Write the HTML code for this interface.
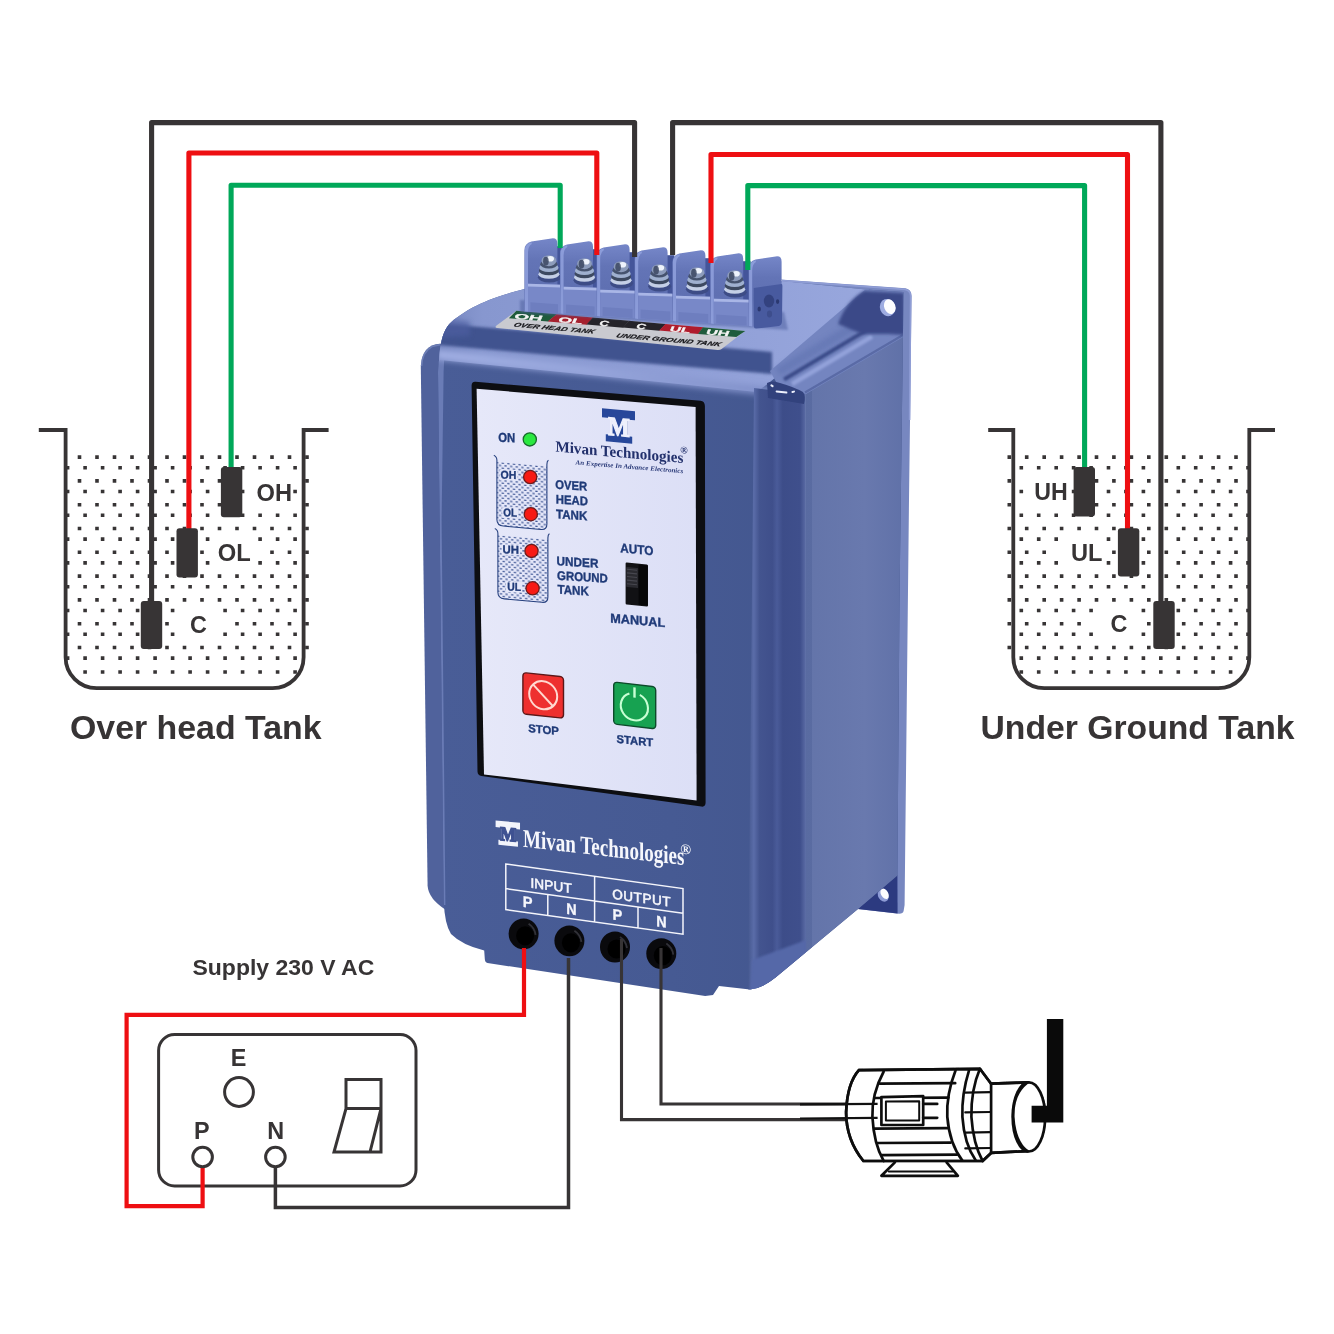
<!DOCTYPE html>
<html lang="en">
<head>
<meta charset="utf-8">
<title>Water level controller wiring diagram</title>
<style>
html,body{margin:0;padding:0;background:#fff}
body{width:1334px;height:1334px;overflow:hidden}
svg{display:block}
text{white-space:pre}
</style>
</head>
<body>
<svg width="1334" height="1334" viewBox="0 0 1334 1334" style="will-change:transform">
<rect width="1334" height="1334" fill="#fff"/>
<path d="M77.7 455.3h3.6v3.6h-3.6zM95.2 455.3h3.6v3.6h-3.6zM112.7 455.3h3.6v3.6h-3.6zM130.2 455.3h3.6v3.6h-3.6zM147.7 455.3h3.6v3.6h-3.6zM165.2 455.3h3.6v3.6h-3.6zM182.7 455.3h3.6v3.6h-3.6zM200.2 455.3h3.6v3.6h-3.6zM217.7 455.3h3.6v3.6h-3.6zM235.2 455.3h3.6v3.6h-3.6zM252.7 455.3h3.6v3.6h-3.6zM270.2 455.3h3.6v3.6h-3.6zM287.7 455.3h3.6v3.6h-3.6zM305.2 455.3h3.6v3.6h-3.6zM65.8 465.9h3.6v3.6h-3.6zM83.3 465.9h3.6v3.6h-3.6zM100.8 465.9h3.6v3.6h-3.6zM118.3 465.9h3.6v3.6h-3.6zM135.8 465.9h3.6v3.6h-3.6zM153.3 465.9h3.6v3.6h-3.6zM170.8 465.9h3.6v3.6h-3.6zM188.3 465.9h3.6v3.6h-3.6zM205.8 465.9h3.6v3.6h-3.6zM223.3 465.9h3.6v3.6h-3.6zM240.8 465.9h3.6v3.6h-3.6zM258.3 465.9h3.6v3.6h-3.6zM275.8 465.9h3.6v3.6h-3.6zM293.3 465.9h3.6v3.6h-3.6zM77.7 479.1h3.6v3.6h-3.6zM95.2 479.1h3.6v3.6h-3.6zM112.7 479.1h3.6v3.6h-3.6zM130.2 479.1h3.6v3.6h-3.6zM147.7 479.1h3.6v3.6h-3.6zM165.2 479.1h3.6v3.6h-3.6zM182.7 479.1h3.6v3.6h-3.6zM200.2 479.1h3.6v3.6h-3.6zM217.7 479.1h3.6v3.6h-3.6zM235.2 479.1h3.6v3.6h-3.6zM305.2 479.1h3.6v3.6h-3.6zM65.8 489.7h3.6v3.6h-3.6zM83.3 489.7h3.6v3.6h-3.6zM100.8 489.7h3.6v3.6h-3.6zM118.3 489.7h3.6v3.6h-3.6zM135.8 489.7h3.6v3.6h-3.6zM153.3 489.7h3.6v3.6h-3.6zM170.8 489.7h3.6v3.6h-3.6zM188.3 489.7h3.6v3.6h-3.6zM205.8 489.7h3.6v3.6h-3.6zM223.3 489.7h3.6v3.6h-3.6zM240.8 489.7h3.6v3.6h-3.6zM293.3 489.7h3.6v3.6h-3.6zM77.7 502.9h3.6v3.6h-3.6zM95.2 502.9h3.6v3.6h-3.6zM112.7 502.9h3.6v3.6h-3.6zM130.2 502.9h3.6v3.6h-3.6zM147.7 502.9h3.6v3.6h-3.6zM165.2 502.9h3.6v3.6h-3.6zM182.7 502.9h3.6v3.6h-3.6zM200.2 502.9h3.6v3.6h-3.6zM217.7 502.9h3.6v3.6h-3.6zM235.2 502.9h3.6v3.6h-3.6zM305.2 502.9h3.6v3.6h-3.6zM65.8 513.5h3.6v3.6h-3.6zM83.3 513.5h3.6v3.6h-3.6zM100.8 513.5h3.6v3.6h-3.6zM118.3 513.5h3.6v3.6h-3.6zM135.8 513.5h3.6v3.6h-3.6zM153.3 513.5h3.6v3.6h-3.6zM170.8 513.5h3.6v3.6h-3.6zM188.3 513.5h3.6v3.6h-3.6zM205.8 513.5h3.6v3.6h-3.6zM223.3 513.5h3.6v3.6h-3.6zM240.8 513.5h3.6v3.6h-3.6zM258.3 513.5h3.6v3.6h-3.6zM275.8 513.5h3.6v3.6h-3.6zM293.3 513.5h3.6v3.6h-3.6zM77.7 526.7h3.6v3.6h-3.6zM95.2 526.7h3.6v3.6h-3.6zM112.7 526.7h3.6v3.6h-3.6zM130.2 526.7h3.6v3.6h-3.6zM147.7 526.7h3.6v3.6h-3.6zM165.2 526.7h3.6v3.6h-3.6zM182.7 526.7h3.6v3.6h-3.6zM200.2 526.7h3.6v3.6h-3.6zM217.7 526.7h3.6v3.6h-3.6zM235.2 526.7h3.6v3.6h-3.6zM252.7 526.7h3.6v3.6h-3.6zM270.2 526.7h3.6v3.6h-3.6zM287.7 526.7h3.6v3.6h-3.6zM305.2 526.7h3.6v3.6h-3.6zM65.8 537.3h3.6v3.6h-3.6zM83.3 537.3h3.6v3.6h-3.6zM100.8 537.3h3.6v3.6h-3.6zM118.3 537.3h3.6v3.6h-3.6zM135.8 537.3h3.6v3.6h-3.6zM153.3 537.3h3.6v3.6h-3.6zM170.8 537.3h3.6v3.6h-3.6zM188.3 537.3h3.6v3.6h-3.6zM205.8 537.3h3.6v3.6h-3.6zM258.3 537.3h3.6v3.6h-3.6zM275.8 537.3h3.6v3.6h-3.6zM293.3 537.3h3.6v3.6h-3.6zM77.7 550.5h3.6v3.6h-3.6zM95.2 550.5h3.6v3.6h-3.6zM112.7 550.5h3.6v3.6h-3.6zM130.2 550.5h3.6v3.6h-3.6zM147.7 550.5h3.6v3.6h-3.6zM165.2 550.5h3.6v3.6h-3.6zM182.7 550.5h3.6v3.6h-3.6zM200.2 550.5h3.6v3.6h-3.6zM270.2 550.5h3.6v3.6h-3.6zM287.7 550.5h3.6v3.6h-3.6zM305.2 550.5h3.6v3.6h-3.6zM65.8 561.1h3.6v3.6h-3.6zM83.3 561.1h3.6v3.6h-3.6zM100.8 561.1h3.6v3.6h-3.6zM118.3 561.1h3.6v3.6h-3.6zM135.8 561.1h3.6v3.6h-3.6zM153.3 561.1h3.6v3.6h-3.6zM170.8 561.1h3.6v3.6h-3.6zM188.3 561.1h3.6v3.6h-3.6zM205.8 561.1h3.6v3.6h-3.6zM258.3 561.1h3.6v3.6h-3.6zM275.8 561.1h3.6v3.6h-3.6zM293.3 561.1h3.6v3.6h-3.6zM77.7 574.3h3.6v3.6h-3.6zM95.2 574.3h3.6v3.6h-3.6zM112.7 574.3h3.6v3.6h-3.6zM130.2 574.3h3.6v3.6h-3.6zM147.7 574.3h3.6v3.6h-3.6zM165.2 574.3h3.6v3.6h-3.6zM182.7 574.3h3.6v3.6h-3.6zM200.2 574.3h3.6v3.6h-3.6zM217.7 574.3h3.6v3.6h-3.6zM235.2 574.3h3.6v3.6h-3.6zM252.7 574.3h3.6v3.6h-3.6zM270.2 574.3h3.6v3.6h-3.6zM287.7 574.3h3.6v3.6h-3.6zM305.2 574.3h3.6v3.6h-3.6zM65.8 584.9h3.6v3.6h-3.6zM83.3 584.9h3.6v3.6h-3.6zM100.8 584.9h3.6v3.6h-3.6zM118.3 584.9h3.6v3.6h-3.6zM135.8 584.9h3.6v3.6h-3.6zM153.3 584.9h3.6v3.6h-3.6zM170.8 584.9h3.6v3.6h-3.6zM188.3 584.9h3.6v3.6h-3.6zM205.8 584.9h3.6v3.6h-3.6zM223.3 584.9h3.6v3.6h-3.6zM240.8 584.9h3.6v3.6h-3.6zM258.3 584.9h3.6v3.6h-3.6zM275.8 584.9h3.6v3.6h-3.6zM293.3 584.9h3.6v3.6h-3.6zM77.7 598.1h3.6v3.6h-3.6zM95.2 598.1h3.6v3.6h-3.6zM112.7 598.1h3.6v3.6h-3.6zM130.2 598.1h3.6v3.6h-3.6zM147.7 598.1h3.6v3.6h-3.6zM165.2 598.1h3.6v3.6h-3.6zM182.7 598.1h3.6v3.6h-3.6zM200.2 598.1h3.6v3.6h-3.6zM217.7 598.1h3.6v3.6h-3.6zM235.2 598.1h3.6v3.6h-3.6zM252.7 598.1h3.6v3.6h-3.6zM270.2 598.1h3.6v3.6h-3.6zM287.7 598.1h3.6v3.6h-3.6zM305.2 598.1h3.6v3.6h-3.6zM65.8 608.7h3.6v3.6h-3.6zM83.3 608.7h3.6v3.6h-3.6zM100.8 608.7h3.6v3.6h-3.6zM118.3 608.7h3.6v3.6h-3.6zM135.8 608.7h3.6v3.6h-3.6zM153.3 608.7h3.6v3.6h-3.6zM170.8 608.7h3.6v3.6h-3.6zM223.3 608.7h3.6v3.6h-3.6zM240.8 608.7h3.6v3.6h-3.6zM258.3 608.7h3.6v3.6h-3.6zM275.8 608.7h3.6v3.6h-3.6zM293.3 608.7h3.6v3.6h-3.6zM77.7 621.9h3.6v3.6h-3.6zM95.2 621.9h3.6v3.6h-3.6zM112.7 621.9h3.6v3.6h-3.6zM130.2 621.9h3.6v3.6h-3.6zM147.7 621.9h3.6v3.6h-3.6zM165.2 621.9h3.6v3.6h-3.6zM235.2 621.9h3.6v3.6h-3.6zM252.7 621.9h3.6v3.6h-3.6zM270.2 621.9h3.6v3.6h-3.6zM287.7 621.9h3.6v3.6h-3.6zM305.2 621.9h3.6v3.6h-3.6zM65.8 632.5h3.6v3.6h-3.6zM83.3 632.5h3.6v3.6h-3.6zM100.8 632.5h3.6v3.6h-3.6zM118.3 632.5h3.6v3.6h-3.6zM135.8 632.5h3.6v3.6h-3.6zM153.3 632.5h3.6v3.6h-3.6zM170.8 632.5h3.6v3.6h-3.6zM223.3 632.5h3.6v3.6h-3.6zM240.8 632.5h3.6v3.6h-3.6zM258.3 632.5h3.6v3.6h-3.6zM275.8 632.5h3.6v3.6h-3.6zM293.3 632.5h3.6v3.6h-3.6zM77.7 645.7h3.6v3.6h-3.6zM95.2 645.7h3.6v3.6h-3.6zM112.7 645.7h3.6v3.6h-3.6zM130.2 645.7h3.6v3.6h-3.6zM147.7 645.7h3.6v3.6h-3.6zM165.2 645.7h3.6v3.6h-3.6zM182.7 645.7h3.6v3.6h-3.6zM200.2 645.7h3.6v3.6h-3.6zM217.7 645.7h3.6v3.6h-3.6zM235.2 645.7h3.6v3.6h-3.6zM252.7 645.7h3.6v3.6h-3.6zM270.2 645.7h3.6v3.6h-3.6zM287.7 645.7h3.6v3.6h-3.6zM305.2 645.7h3.6v3.6h-3.6zM65.8 656.3h3.6v3.6h-3.6zM83.3 656.3h3.6v3.6h-3.6zM100.8 656.3h3.6v3.6h-3.6zM118.3 656.3h3.6v3.6h-3.6zM135.8 656.3h3.6v3.6h-3.6zM153.3 656.3h3.6v3.6h-3.6zM170.8 656.3h3.6v3.6h-3.6zM188.3 656.3h3.6v3.6h-3.6zM205.8 656.3h3.6v3.6h-3.6zM223.3 656.3h3.6v3.6h-3.6zM240.8 656.3h3.6v3.6h-3.6zM258.3 656.3h3.6v3.6h-3.6zM275.8 656.3h3.6v3.6h-3.6zM293.3 656.3h3.6v3.6h-3.6zM83.3 670.2h3.6v3.6h-3.6zM100.8 670.2h3.6v3.6h-3.6zM118.3 670.2h3.6v3.6h-3.6zM135.8 670.2h3.6v3.6h-3.6zM153.3 670.2h3.6v3.6h-3.6zM170.8 670.2h3.6v3.6h-3.6zM188.3 670.2h3.6v3.6h-3.6zM205.8 670.2h3.6v3.6h-3.6zM223.3 670.2h3.6v3.6h-3.6zM240.8 670.2h3.6v3.6h-3.6zM258.3 670.2h3.6v3.6h-3.6zM275.8 670.2h3.6v3.6h-3.6zM293.3 670.2h3.6v3.6h-3.6z" fill="#373435"/>
<path d="M1007.5 455.3h3.6v3.6h-3.6zM1024.9 455.3h3.6v3.6h-3.6zM1042.4 455.3h3.6v3.6h-3.6zM1059.8 455.3h3.6v3.6h-3.6zM1077.3 455.3h3.6v3.6h-3.6zM1094.7 455.3h3.6v3.6h-3.6zM1112.1 455.3h3.6v3.6h-3.6zM1129.6 455.3h3.6v3.6h-3.6zM1147.0 455.3h3.6v3.6h-3.6zM1164.5 455.3h3.6v3.6h-3.6zM1181.9 455.3h3.6v3.6h-3.6zM1199.3 455.3h3.6v3.6h-3.6zM1216.8 455.3h3.6v3.6h-3.6zM1234.2 455.3h3.6v3.6h-3.6zM1019.5 465.9h3.6v3.6h-3.6zM1036.9 465.9h3.6v3.6h-3.6zM1054.4 465.9h3.6v3.6h-3.6zM1071.8 465.9h3.6v3.6h-3.6zM1089.3 465.9h3.6v3.6h-3.6zM1106.7 465.9h3.6v3.6h-3.6zM1124.1 465.9h3.6v3.6h-3.6zM1141.6 465.9h3.6v3.6h-3.6zM1159.0 465.9h3.6v3.6h-3.6zM1176.5 465.9h3.6v3.6h-3.6zM1193.9 465.9h3.6v3.6h-3.6zM1211.3 465.9h3.6v3.6h-3.6zM1228.8 465.9h3.6v3.6h-3.6zM1246.2 465.9h3.6v3.6h-3.6zM1007.5 479.1h3.6v3.6h-3.6zM1077.3 479.1h3.6v3.6h-3.6zM1094.7 479.1h3.6v3.6h-3.6zM1112.1 479.1h3.6v3.6h-3.6zM1129.6 479.1h3.6v3.6h-3.6zM1147.0 479.1h3.6v3.6h-3.6zM1164.5 479.1h3.6v3.6h-3.6zM1181.9 479.1h3.6v3.6h-3.6zM1199.3 479.1h3.6v3.6h-3.6zM1216.8 479.1h3.6v3.6h-3.6zM1234.2 479.1h3.6v3.6h-3.6zM1019.5 489.7h3.6v3.6h-3.6zM1071.8 489.7h3.6v3.6h-3.6zM1089.3 489.7h3.6v3.6h-3.6zM1106.7 489.7h3.6v3.6h-3.6zM1124.1 489.7h3.6v3.6h-3.6zM1141.6 489.7h3.6v3.6h-3.6zM1159.0 489.7h3.6v3.6h-3.6zM1176.5 489.7h3.6v3.6h-3.6zM1193.9 489.7h3.6v3.6h-3.6zM1211.3 489.7h3.6v3.6h-3.6zM1228.8 489.7h3.6v3.6h-3.6zM1246.2 489.7h3.6v3.6h-3.6zM1007.5 502.9h3.6v3.6h-3.6zM1077.3 502.9h3.6v3.6h-3.6zM1094.7 502.9h3.6v3.6h-3.6zM1112.1 502.9h3.6v3.6h-3.6zM1129.6 502.9h3.6v3.6h-3.6zM1147.0 502.9h3.6v3.6h-3.6zM1164.5 502.9h3.6v3.6h-3.6zM1181.9 502.9h3.6v3.6h-3.6zM1199.3 502.9h3.6v3.6h-3.6zM1216.8 502.9h3.6v3.6h-3.6zM1234.2 502.9h3.6v3.6h-3.6zM1019.5 513.5h3.6v3.6h-3.6zM1036.9 513.5h3.6v3.6h-3.6zM1054.4 513.5h3.6v3.6h-3.6zM1071.8 513.5h3.6v3.6h-3.6zM1089.3 513.5h3.6v3.6h-3.6zM1106.7 513.5h3.6v3.6h-3.6zM1124.1 513.5h3.6v3.6h-3.6zM1141.6 513.5h3.6v3.6h-3.6zM1159.0 513.5h3.6v3.6h-3.6zM1176.5 513.5h3.6v3.6h-3.6zM1193.9 513.5h3.6v3.6h-3.6zM1211.3 513.5h3.6v3.6h-3.6zM1228.8 513.5h3.6v3.6h-3.6zM1246.2 513.5h3.6v3.6h-3.6zM1007.5 526.7h3.6v3.6h-3.6zM1024.9 526.7h3.6v3.6h-3.6zM1042.4 526.7h3.6v3.6h-3.6zM1059.8 526.7h3.6v3.6h-3.6zM1077.3 526.7h3.6v3.6h-3.6zM1094.7 526.7h3.6v3.6h-3.6zM1112.1 526.7h3.6v3.6h-3.6zM1129.6 526.7h3.6v3.6h-3.6zM1147.0 526.7h3.6v3.6h-3.6zM1164.5 526.7h3.6v3.6h-3.6zM1181.9 526.7h3.6v3.6h-3.6zM1199.3 526.7h3.6v3.6h-3.6zM1216.8 526.7h3.6v3.6h-3.6zM1234.2 526.7h3.6v3.6h-3.6zM1019.5 537.3h3.6v3.6h-3.6zM1036.9 537.3h3.6v3.6h-3.6zM1054.4 537.3h3.6v3.6h-3.6zM1106.7 537.3h3.6v3.6h-3.6zM1124.1 537.3h3.6v3.6h-3.6zM1141.6 537.3h3.6v3.6h-3.6zM1159.0 537.3h3.6v3.6h-3.6zM1176.5 537.3h3.6v3.6h-3.6zM1193.9 537.3h3.6v3.6h-3.6zM1211.3 537.3h3.6v3.6h-3.6zM1228.8 537.3h3.6v3.6h-3.6zM1246.2 537.3h3.6v3.6h-3.6zM1007.5 550.5h3.6v3.6h-3.6zM1024.9 550.5h3.6v3.6h-3.6zM1042.4 550.5h3.6v3.6h-3.6zM1112.1 550.5h3.6v3.6h-3.6zM1129.6 550.5h3.6v3.6h-3.6zM1147.0 550.5h3.6v3.6h-3.6zM1164.5 550.5h3.6v3.6h-3.6zM1181.9 550.5h3.6v3.6h-3.6zM1199.3 550.5h3.6v3.6h-3.6zM1216.8 550.5h3.6v3.6h-3.6zM1234.2 550.5h3.6v3.6h-3.6zM1019.5 561.1h3.6v3.6h-3.6zM1036.9 561.1h3.6v3.6h-3.6zM1054.4 561.1h3.6v3.6h-3.6zM1106.7 561.1h3.6v3.6h-3.6zM1124.1 561.1h3.6v3.6h-3.6zM1141.6 561.1h3.6v3.6h-3.6zM1159.0 561.1h3.6v3.6h-3.6zM1176.5 561.1h3.6v3.6h-3.6zM1193.9 561.1h3.6v3.6h-3.6zM1211.3 561.1h3.6v3.6h-3.6zM1228.8 561.1h3.6v3.6h-3.6zM1246.2 561.1h3.6v3.6h-3.6zM1007.5 574.3h3.6v3.6h-3.6zM1024.9 574.3h3.6v3.6h-3.6zM1042.4 574.3h3.6v3.6h-3.6zM1059.8 574.3h3.6v3.6h-3.6zM1077.3 574.3h3.6v3.6h-3.6zM1094.7 574.3h3.6v3.6h-3.6zM1112.1 574.3h3.6v3.6h-3.6zM1129.6 574.3h3.6v3.6h-3.6zM1147.0 574.3h3.6v3.6h-3.6zM1164.5 574.3h3.6v3.6h-3.6zM1181.9 574.3h3.6v3.6h-3.6zM1199.3 574.3h3.6v3.6h-3.6zM1216.8 574.3h3.6v3.6h-3.6zM1234.2 574.3h3.6v3.6h-3.6zM1019.5 584.9h3.6v3.6h-3.6zM1036.9 584.9h3.6v3.6h-3.6zM1054.4 584.9h3.6v3.6h-3.6zM1071.8 584.9h3.6v3.6h-3.6zM1089.3 584.9h3.6v3.6h-3.6zM1106.7 584.9h3.6v3.6h-3.6zM1124.1 584.9h3.6v3.6h-3.6zM1141.6 584.9h3.6v3.6h-3.6zM1159.0 584.9h3.6v3.6h-3.6zM1176.5 584.9h3.6v3.6h-3.6zM1193.9 584.9h3.6v3.6h-3.6zM1211.3 584.9h3.6v3.6h-3.6zM1228.8 584.9h3.6v3.6h-3.6zM1246.2 584.9h3.6v3.6h-3.6zM1007.5 598.1h3.6v3.6h-3.6zM1024.9 598.1h3.6v3.6h-3.6zM1042.4 598.1h3.6v3.6h-3.6zM1059.8 598.1h3.6v3.6h-3.6zM1077.3 598.1h3.6v3.6h-3.6zM1094.7 598.1h3.6v3.6h-3.6zM1112.1 598.1h3.6v3.6h-3.6zM1129.6 598.1h3.6v3.6h-3.6zM1147.0 598.1h3.6v3.6h-3.6zM1164.5 598.1h3.6v3.6h-3.6zM1181.9 598.1h3.6v3.6h-3.6zM1199.3 598.1h3.6v3.6h-3.6zM1216.8 598.1h3.6v3.6h-3.6zM1234.2 598.1h3.6v3.6h-3.6zM1019.5 608.7h3.6v3.6h-3.6zM1036.9 608.7h3.6v3.6h-3.6zM1054.4 608.7h3.6v3.6h-3.6zM1071.8 608.7h3.6v3.6h-3.6zM1089.3 608.7h3.6v3.6h-3.6zM1141.6 608.7h3.6v3.6h-3.6zM1159.0 608.7h3.6v3.6h-3.6zM1176.5 608.7h3.6v3.6h-3.6zM1193.9 608.7h3.6v3.6h-3.6zM1211.3 608.7h3.6v3.6h-3.6zM1228.8 608.7h3.6v3.6h-3.6zM1246.2 608.7h3.6v3.6h-3.6zM1007.5 621.9h3.6v3.6h-3.6zM1024.9 621.9h3.6v3.6h-3.6zM1042.4 621.9h3.6v3.6h-3.6zM1059.8 621.9h3.6v3.6h-3.6zM1077.3 621.9h3.6v3.6h-3.6zM1147.0 621.9h3.6v3.6h-3.6zM1164.5 621.9h3.6v3.6h-3.6zM1181.9 621.9h3.6v3.6h-3.6zM1199.3 621.9h3.6v3.6h-3.6zM1216.8 621.9h3.6v3.6h-3.6zM1234.2 621.9h3.6v3.6h-3.6zM1019.5 632.5h3.6v3.6h-3.6zM1036.9 632.5h3.6v3.6h-3.6zM1054.4 632.5h3.6v3.6h-3.6zM1071.8 632.5h3.6v3.6h-3.6zM1089.3 632.5h3.6v3.6h-3.6zM1141.6 632.5h3.6v3.6h-3.6zM1159.0 632.5h3.6v3.6h-3.6zM1176.5 632.5h3.6v3.6h-3.6zM1193.9 632.5h3.6v3.6h-3.6zM1211.3 632.5h3.6v3.6h-3.6zM1228.8 632.5h3.6v3.6h-3.6zM1246.2 632.5h3.6v3.6h-3.6zM1007.5 645.7h3.6v3.6h-3.6zM1024.9 645.7h3.6v3.6h-3.6zM1042.4 645.7h3.6v3.6h-3.6zM1059.8 645.7h3.6v3.6h-3.6zM1077.3 645.7h3.6v3.6h-3.6zM1094.7 645.7h3.6v3.6h-3.6zM1112.1 645.7h3.6v3.6h-3.6zM1129.6 645.7h3.6v3.6h-3.6zM1147.0 645.7h3.6v3.6h-3.6zM1164.5 645.7h3.6v3.6h-3.6zM1181.9 645.7h3.6v3.6h-3.6zM1199.3 645.7h3.6v3.6h-3.6zM1216.8 645.7h3.6v3.6h-3.6zM1234.2 645.7h3.6v3.6h-3.6zM1019.5 656.3h3.6v3.6h-3.6zM1036.9 656.3h3.6v3.6h-3.6zM1054.4 656.3h3.6v3.6h-3.6zM1071.8 656.3h3.6v3.6h-3.6zM1089.3 656.3h3.6v3.6h-3.6zM1106.7 656.3h3.6v3.6h-3.6zM1124.1 656.3h3.6v3.6h-3.6zM1141.6 656.3h3.6v3.6h-3.6zM1159.0 656.3h3.6v3.6h-3.6zM1176.5 656.3h3.6v3.6h-3.6zM1193.9 656.3h3.6v3.6h-3.6zM1211.3 656.3h3.6v3.6h-3.6zM1228.8 656.3h3.6v3.6h-3.6zM1246.2 656.3h3.6v3.6h-3.6zM1019.5 670.2h3.6v3.6h-3.6zM1036.9 670.2h3.6v3.6h-3.6zM1054.4 670.2h3.6v3.6h-3.6zM1071.8 670.2h3.6v3.6h-3.6zM1089.3 670.2h3.6v3.6h-3.6zM1106.7 670.2h3.6v3.6h-3.6zM1124.1 670.2h3.6v3.6h-3.6zM1141.6 670.2h3.6v3.6h-3.6zM1159.0 670.2h3.6v3.6h-3.6zM1176.5 670.2h3.6v3.6h-3.6zM1193.9 670.2h3.6v3.6h-3.6zM1211.3 670.2h3.6v3.6h-3.6zM1228.8 670.2h3.6v3.6h-3.6z" fill="#373435"/>
<path d="M38.8 430H65.6V657.2A31 31 0 0 0 96.6 688.2H272.6A31 31 0 0 0 303.6 657.2V430H328.6" fill="none" stroke="#373435" stroke-width="3.8"/>
<path d="M988.2 430H1013.3V657.2A31 31 0 0 0 1044.3 688.2H1218.3A31 31 0 0 0 1249.3 657.2V430H1275" fill="none" stroke="#373435" stroke-width="3.8"/>
<defs>
<linearGradient id="gFront" x1="0" y1="0" x2="1" y2="0">
<stop offset="0" stop-color="#495d97"/><stop offset="0.5" stop-color="#465a93"/><stop offset="1" stop-color="#41548c"/>
</linearGradient>
<linearGradient id="gSide" x1="0" y1="0" x2="1" y2="0">
<stop offset="0" stop-color="#6374a9"/><stop offset="0.6" stop-color="#6979ae"/><stop offset="1" stop-color="#6071a8"/>
</linearGradient>
<linearGradient id="gTop" x1="0" y1="0" x2="1" y2="0">
<stop offset="0" stop-color="#7283bd"/><stop offset="0.12" stop-color="#8797cf"/><stop offset="0.5" stop-color="#8e9dd5"/><stop offset="1" stop-color="#98a7dd"/>
</linearGradient>
<linearGradient id="gBevel" gradientUnits="userSpaceOnUse" x1="440" y1="0" x2="772" y2="0">
<stop offset="0" stop-color="#a2b0e4"/><stop offset="0.45" stop-color="#97a6dc"/><stop offset="1" stop-color="#7f8fc8"/>
</linearGradient>
<linearGradient id="gRidge" x1="0" y1="0" x2="1" y2="0">
<stop offset="0" stop-color="#45588f"/><stop offset="0.1" stop-color="#5a6ca8"/><stop offset="0.2" stop-color="#43548f"/>
<stop offset="0.42" stop-color="#3f4f8b"/><stop offset="0.5" stop-color="#4a5b99"/><stop offset="0.6" stop-color="#3d4d89"/><stop offset="0.9" stop-color="#3f4f8c"/><stop offset="1" stop-color="#5c6da6"/>
</linearGradient>
<linearGradient id="gFin" x1="0" y1="0" x2="0" y2="1">
<stop offset="0" stop-color="#7586c8"/><stop offset="0.3" stop-color="#6374b6"/><stop offset="0.6" stop-color="#5f70b2"/><stop offset="1" stop-color="#7080c0"/>
</linearGradient>
<linearGradient id="gPanel" x1="0" y1="0" x2="1" y2="0">
<stop offset="0" stop-color="#e6e8f9"/><stop offset="1" stop-color="#dcdff6"/>
</linearGradient>
<pattern id="pDots" width="5.6" height="5" patternUnits="userSpaceOnUse" patternTransform="translate(495 458)">
<rect x="0.3" y="0.3" width="2.2" height="1.2" fill="#2a4488"/><rect x="3.1" y="2.8" width="2.2" height="1.2" fill="#2a4488"/>
</pattern>
<filter id="fBlur1" x="-20%" y="-20%" width="140%" height="140%"><feGaussianBlur stdDeviation="1.2"/></filter>
<filter id="fBlur15" x="-20%" y="-20%" width="140%" height="140%"><feGaussianBlur stdDeviation="1.7"/></filter>
<filter id="fBlur3" x="-20%" y="-50%" width="140%" height="200%"><feGaussianBlur stdDeviation="3"/></filter>
<filter id="fBlur2" x="-20%" y="-20%" width="140%" height="140%"><feGaussianBlur stdDeviation="2.5"/></filter>
<filter id="fBlur05" x="-20%" y="-20%" width="140%" height="140%"><feGaussianBlur stdDeviation="0.6"/></filter>
</defs>
<path d="M440 343.8Q431 344.4 426 350Q421.4 356 420.8 366L427.6 886Q428.6 899 446 910L446 344Z" fill="#50629c"/>
<path d="M421.6 366Q422 352 432 346.5L440 344.6" fill="none" stroke="#7384bb" stroke-width="1.6" opacity="0.8"/>
<path d="M780 279.5L905.5 288.3Q911.5 289.5 911.6 296L909 500L906.8 700L904.6 905L903.6 911Q903 913.8 899 913.7L858 909L858 880L880 330Z" fill="#7787c0"/>
<path d="M857.6 909L897.4 875L897.6 913.4Z" fill="#2c3a80"/>
<ellipse cx="883.2" cy="895.4" rx="5" ry="6.6" fill="#8e9cd6" transform="rotate(-30 883.2 895.4)"/>
<ellipse cx="884.6" cy="893.8" rx="3.6" ry="5.6" fill="#fdfdff" transform="rotate(-30 884.6 893.8)"/>
<clipPath id="cBody"><path d="M443.8 902L438 372L439.2 358C440 345 442.4 333.5 447.6 326.3C452 320.6 459 315.5 472.6 307.6C485 301 500 295.5 522.7 289.4L526 288.6L782 281L866 289.5L903.4 292L903 333L899.5 600L897.4 875.5L858 909L775.5 977.5Q762 988.5 750 989.4L719 986L713 995L705.2 996.1L487.5 963Q485 962.4 484.8 959L484.2 950.5Q462 945 451 934Q444.6 924 443.8 902Z"/></clipPath>
<path d="M443.8 902L438 372L439.2 358C440 345 442.4 333.5 447.6 326.3C452 320.6 459 315.5 472.6 307.6C485 301 500 295.5 522.7 289.4L526 288.6L782 281L866 289.5L903.4 292L903 333L899.5 600L897.4 875.5L858 909L775.5 977.5Q762 988.5 750 989.4L719 986L713 995L705.2 996.1L487.5 963Q485 962.4 484.8 959L484.2 950.5Q462 945 451 934Q444.6 924 443.8 902Z" fill="url(#gFront)"/>
<g clip-path="url(#cBody)">
<path d="M437 350L438 372L439.6 520L443.5 905L445.4 905L441.6 520L443.6 372L445 340Z" fill="#6a7cb6" filter="url(#fBlur05)"/>
<path d="M430 378L436 320L480 290L526 285L782 278L870 288L846 318L770 382L757 392L600 376L440 360Z" fill="url(#gTop)"/>
<path d="M432 323L600 337L772 352L772 374L600 359.5L432 344.5Z" fill="#41538f" filter="url(#fBlur15)"/>
<path d="M432 318Q446 318 470 322L470 336L432 338Z" fill="#4d5fa0" opacity="0.7" filter="url(#fBlur2)"/>
<path d="M436 349.5L600 368L772 387.5L772 396L600 376.5L436 359Z" fill="url(#gBevel)" filter="url(#fBlur3)"/>
<path d="M754 388L806 394L806 958L780 990L748 990Z" fill="url(#gRidge)"/>
<path d="M805 394L806 391L904 332L904 333L900 905L858 912L806 956Z" fill="url(#gSide)"/>
<path d="M806 394L812 390L812 950L806 956Z" fill="#56679f" opacity="0.7" filter="url(#fBlur05)"/>
<path d="M752 960L806 940L806 958L776 985L750 992Z" fill="#5468a8" filter="url(#fBlur1)"/>
<path d="M866 289L905 291L905 336L806 394L780 389L770 371Z" fill="#7485c0"/>
<path d="M778 372L860 323" stroke="#6476b3" stroke-width="9" fill="none" opacity="0.75" filter="url(#fBlur2)"/>
<path d="M784 379.5L866 330.5" stroke="#3b4b89" stroke-width="4" fill="none" filter="url(#fBlur1)"/>
<path d="M792 384L872 336.5" stroke="#93a2da" stroke-width="4.5" fill="none" filter="url(#fBlur1)"/>
<path d="M805 392.5L903 335" stroke="#5a6ba6" stroke-width="2.4" fill="none" filter="url(#fBlur05)"/>
<path d="M838 324Q846 301 864 291L904 293L905 335L888 334L862 334Z" fill="#3a4988" filter="url(#fBlur15)"/>
<path d="M767 383Q772 380 780 383Q794 387 803 392Q806 396 804 404L768 398Z" fill="#33427d" filter="url(#fBlur05)"/>
<path d="M771.4 385.4L772.6 386.2M776.6 391.4L786.4 392.6M792.4 392L794 391.6" stroke="#eef1fc" stroke-width="2" stroke-linecap="round" fill="none" filter="url(#fBlur05)"/>
<ellipse cx="887.6" cy="307.6" rx="7.6" ry="8.8" fill="#9eace2" transform="rotate(-20 887.6 307.6)"/>
<ellipse cx="889.8" cy="306.6" rx="5.6" ry="7.6" fill="#fdfdff" transform="rotate(-20 889.8 306.6)"/>
</g>
<path d="M782 280.6L905 289.4Q910.6 290.4 910.6 296L909.6 420" fill="none" stroke="#8f9dd5" stroke-width="1.6"/>
<path d="M516.4 310.7L745 331L721.6 349Q720 350.2 717.6 350L497.4 328Q494.4 327.6 496.2 325.8Z" fill="#c9cad0"/>
<path d="M516.4 310.7L556.8 314.3L548.0 321.4L508.9 318.2Z" fill="#1f5c3c"/>
<path d="M556.5 314.3L593.1 317.5L586.8 324.7L547.7 321.4Z" fill="#a5202e"/>
<path d="M592.8 317.5L629.3 320.7L623.1 327.7L586.5 324.6Z" fill="#25242a"/>
<path d="M629.0 320.7L665.7 324.0L659.4 330.7L622.8 327.6Z" fill="#25242a"/>
<path d="M665.4 323.9L703.3 327.3L698.3 333.9L659.1 330.6Z" fill="#b01c2c"/>
<path d="M703.0 327.3L745.3 331.0L736.3 337.0L698.0 333.9Z" fill="#1f5c3c"/>
<text transform="matrix(1 0.0868 -0.35 0.8 513.4 318.4)" font-family="'Liberation Sans', Arial, Helvetica, sans-serif" font-weight="bold" font-size="9" fill="#f4f4f4" stroke="#f4f4f4" stroke-width="0.3" textLength="28" lengthAdjust="spacingAndGlyphs">OH</text>
<text transform="matrix(1 0.0868 -0.35 0.8 557.6 322.1)" font-family="'Liberation Sans', Arial, Helvetica, sans-serif" font-weight="bold" font-size="9" fill="#f4f4f4" stroke="#f4f4f4" stroke-width="0.3" textLength="24" lengthAdjust="spacingAndGlyphs">OL</text>
<text transform="matrix(1 0.0868 -0.35 0.8 598.4 325.5)" font-family="'Liberation Sans', Arial, Helvetica, sans-serif" font-weight="bold" font-size="9" fill="#f4f4f4" stroke="#f4f4f4" stroke-width="0.3" textLength="9.5" lengthAdjust="spacingAndGlyphs">C</text>
<text transform="matrix(1 0.0868 -0.35 0.8 635.4 328.6)" font-family="'Liberation Sans', Arial, Helvetica, sans-serif" font-weight="bold" font-size="9" fill="#f4f4f4" stroke="#f4f4f4" stroke-width="0.3" textLength="9.5" lengthAdjust="spacingAndGlyphs">C</text>
<text transform="matrix(1 0.0868 -0.35 0.8 668.9 331.3)" font-family="'Liberation Sans', Arial, Helvetica, sans-serif" font-weight="bold" font-size="9" fill="#f4f4f4" stroke="#f4f4f4" stroke-width="0.3" textLength="20.5" lengthAdjust="spacingAndGlyphs">UL</text>
<text transform="matrix(1 0.0868 -0.35 0.8 705.3 334.3)" font-family="'Liberation Sans', Arial, Helvetica, sans-serif" font-weight="bold" font-size="9" fill="#f4f4f4" stroke="#f4f4f4" stroke-width="0.3" textLength="23" lengthAdjust="spacingAndGlyphs">UH</text>
<text transform="matrix(1.2 0.105 -0.5 0.8 513 326.6)" font-family="'Liberation Sans', Arial, Helvetica, sans-serif" font-weight="bold" font-style="italic" font-size="7" fill="#16161a" stroke="#16161a" stroke-width="0.2" textLength="67" lengthAdjust="spacingAndGlyphs">OVER HEAD TANK</text>
<text transform="matrix(1.2 0.105 -0.5 0.8 615.5 337.2)" font-family="'Liberation Sans', Arial, Helvetica, sans-serif" font-weight="bold" font-style="italic" font-size="7" fill="#16161a" stroke="#16161a" stroke-width="0.2" textLength="87" lengthAdjust="spacingAndGlyphs">UNDER GROUND TANK</text>
<path d="M520 300L784 312L788 330L520 313Z" fill="#4a5c9c" opacity="0.5" filter="url(#fBlur1)"/>
<path d="M554.4 246.2H562.0V312.2H554.4Z" fill="#44559a"/>
<path d="M524.4 311.7V250.2Q524.4 243.6 531.4 241.6L551.4 238.4Q557.4 237.4 557.4 243.7V312.4Z" fill="url(#gFin)"/>
<path d="M524.9 311.2V250.2Q524.9 244.2 531.4 242.2L531.8 244.0Q528.0 246.2 528.0 252.2V311.6Z" fill="#93a4e0" opacity="0.8"/>
<g>
<ellipse cx="549.4" cy="277.2" rx="11.5" ry="5.2" fill="#3d4c86"/>
<ellipse cx="548.9" cy="274.2" rx="10.5" ry="4.6" fill="#c4cfe6"/>
<ellipse cx="548.9" cy="270.7" rx="10" ry="4.6" fill="#3d4960"/>
<ellipse cx="548.9" cy="267.7" rx="9.6" ry="4.4" fill="#9fb0cf"/>
<ellipse cx="548.9" cy="264.2" rx="8.6" ry="4.2" fill="#46536e"/>
<ellipse cx="548.9" cy="260.7" rx="7.4" ry="5.5" fill="#8d9cbb"/>
<ellipse cx="550.4" cy="258.7" rx="3.6" ry="2.8" fill="#eef3fc"/>
<ellipse cx="545.9" cy="261.2" rx="2.8" ry="4.4" fill="#3c4862" opacity="0.85"/>
</g>
<path d="M528.0 283.7L560.4 284.7V313.6L528.0 311.4Z" fill="#7888c8"/>
<path d="M528.0 283.7L560.4 284.7V287.6L528.0 286.6Z" fill="#a9b6e6"/>
<path d="M530.4 302.2L558.0 304.2V313.2L530.4 311.2Z" fill="#6878ba" opacity="0.6" filter="url(#fBlur05)"/>
<path d="M590.0 249.2H598.6V314.5H590.0Z" fill="#44559a"/>
<path d="M560.0 314.0V253.2Q560.0 246.6 567.0 244.6L587.0 241.4Q593.0 240.4 593.0 246.7V314.7Z" fill="url(#gFin)"/>
<path d="M560.5 313.5V253.2Q560.5 247.2 567.0 245.2L567.4 247.0Q563.6 249.2 563.6 255.2V313.9Z" fill="#93a4e0" opacity="0.8"/>
<g>
<ellipse cx="585.0" cy="280.2" rx="11.5" ry="5.2" fill="#3d4c86"/>
<ellipse cx="584.5" cy="277.2" rx="10.5" ry="4.6" fill="#c4cfe6"/>
<ellipse cx="584.5" cy="273.7" rx="10" ry="4.6" fill="#3d4960"/>
<ellipse cx="584.5" cy="270.7" rx="9.6" ry="4.4" fill="#9fb0cf"/>
<ellipse cx="584.5" cy="267.2" rx="8.6" ry="4.2" fill="#46536e"/>
<ellipse cx="584.5" cy="263.7" rx="7.4" ry="5.5" fill="#8d9cbb"/>
<ellipse cx="586.0" cy="261.7" rx="3.6" ry="2.8" fill="#eef3fc"/>
<ellipse cx="581.5" cy="264.2" rx="2.8" ry="4.4" fill="#3c4862" opacity="0.85"/>
</g>
<path d="M563.6 286.7L597.0 287.7V315.9L563.6 313.7Z" fill="#7888c8"/>
<path d="M563.6 286.7L597.0 287.7V290.6L563.6 289.6Z" fill="#a9b6e6"/>
<path d="M566.0 304.5L594.6 306.5V315.5L566.0 313.5Z" fill="#6878ba" opacity="0.6" filter="url(#fBlur05)"/>
<path d="M626.6 252.2H636.6V317.0H626.6Z" fill="#44559a"/>
<path d="M596.6 316.5V256.2Q596.6 249.6 603.6 247.6L623.6 244.4Q629.6 243.4 629.6 249.7V317.2Z" fill="url(#gFin)"/>
<path d="M597.1 316.0V256.2Q597.1 250.2 603.6 248.2L604.0 250.0Q600.2 252.2 600.2 258.2V316.4Z" fill="#93a4e0" opacity="0.8"/>
<g>
<ellipse cx="621.6" cy="283.2" rx="11.5" ry="5.2" fill="#3d4c86"/>
<ellipse cx="621.1" cy="280.2" rx="10.5" ry="4.6" fill="#c4cfe6"/>
<ellipse cx="621.1" cy="276.7" rx="10" ry="4.6" fill="#3d4960"/>
<ellipse cx="621.1" cy="273.7" rx="9.6" ry="4.4" fill="#9fb0cf"/>
<ellipse cx="621.1" cy="270.2" rx="8.6" ry="4.2" fill="#46536e"/>
<ellipse cx="621.1" cy="266.7" rx="7.4" ry="5.5" fill="#8d9cbb"/>
<ellipse cx="622.6" cy="264.7" rx="3.6" ry="2.8" fill="#eef3fc"/>
<ellipse cx="618.1" cy="267.2" rx="2.8" ry="4.4" fill="#3c4862" opacity="0.85"/>
</g>
<path d="M600.2 289.7L635.0 290.7V318.4L600.2 316.2Z" fill="#7888c8"/>
<path d="M600.2 289.7L635.0 290.7V293.6L600.2 292.6Z" fill="#a9b6e6"/>
<path d="M602.6 307.0L632.6 309.0V318.0L602.6 316.0Z" fill="#6878ba" opacity="0.6" filter="url(#fBlur05)"/>
<path d="M664.6 255.2H674.4V319.5H664.6Z" fill="#44559a"/>
<path d="M634.6 319.0V259.2Q634.6 252.6 641.6 250.6L661.6 247.4Q667.6 246.4 667.6 252.7V319.7Z" fill="url(#gFin)"/>
<path d="M635.1 318.5V259.2Q635.1 253.2 641.6 251.2L642.0 253.0Q638.2 255.2 638.2 261.2V318.9Z" fill="#93a4e0" opacity="0.8"/>
<g>
<ellipse cx="659.6" cy="286.2" rx="11.5" ry="5.2" fill="#3d4c86"/>
<ellipse cx="659.1" cy="283.2" rx="10.5" ry="4.6" fill="#c4cfe6"/>
<ellipse cx="659.1" cy="279.7" rx="10" ry="4.6" fill="#3d4960"/>
<ellipse cx="659.1" cy="276.7" rx="9.6" ry="4.4" fill="#9fb0cf"/>
<ellipse cx="659.1" cy="273.2" rx="8.6" ry="4.2" fill="#46536e"/>
<ellipse cx="659.1" cy="269.7" rx="7.4" ry="5.5" fill="#8d9cbb"/>
<ellipse cx="660.6" cy="267.7" rx="3.6" ry="2.8" fill="#eef3fc"/>
<ellipse cx="656.1" cy="270.2" rx="2.8" ry="4.4" fill="#3c4862" opacity="0.85"/>
</g>
<path d="M638.2 292.7L672.8 293.7V320.9L638.2 318.7Z" fill="#7888c8"/>
<path d="M638.2 292.7L672.8 293.7V296.6L638.2 295.6Z" fill="#a9b6e6"/>
<path d="M640.6 309.5L670.4 311.5V320.5L640.6 318.5Z" fill="#6878ba" opacity="0.6" filter="url(#fBlur05)"/>
<path d="M702.4 258.2H712.2V322.0H702.4Z" fill="#44559a"/>
<path d="M672.4 321.5V262.2Q672.4 255.6 679.4 253.6L699.4 250.4Q705.4 249.4 705.4 255.7V322.2Z" fill="url(#gFin)"/>
<path d="M672.9 321.0V262.2Q672.9 256.2 679.4 254.2L679.8 256.0Q676.0 258.2 676.0 264.2V321.4Z" fill="#93a4e0" opacity="0.8"/>
<g>
<ellipse cx="697.4" cy="289.2" rx="11.5" ry="5.2" fill="#3d4c86"/>
<ellipse cx="696.9" cy="286.2" rx="10.5" ry="4.6" fill="#c4cfe6"/>
<ellipse cx="696.9" cy="282.7" rx="10" ry="4.6" fill="#3d4960"/>
<ellipse cx="696.9" cy="279.7" rx="9.6" ry="4.4" fill="#9fb0cf"/>
<ellipse cx="696.9" cy="276.2" rx="8.6" ry="4.2" fill="#46536e"/>
<ellipse cx="696.9" cy="272.7" rx="7.4" ry="5.5" fill="#8d9cbb"/>
<ellipse cx="698.4" cy="270.7" rx="3.6" ry="2.8" fill="#eef3fc"/>
<ellipse cx="693.9" cy="273.2" rx="2.8" ry="4.4" fill="#3c4862" opacity="0.85"/>
</g>
<path d="M676.0 295.7L710.6 296.7V323.4L676.0 321.2Z" fill="#7888c8"/>
<path d="M676.0 295.7L710.6 296.7V299.6L676.0 298.6Z" fill="#a9b6e6"/>
<path d="M678.4 312.0L708.2 314.0V323.0L678.4 321.0Z" fill="#6878ba" opacity="0.6" filter="url(#fBlur05)"/>
<path d="M740.2 261.2H750.6V324.5H740.2Z" fill="#44559a"/>
<path d="M710.2 324.0V265.2Q710.2 258.6 717.2 256.6L737.2 253.4Q743.2 252.4 743.2 258.7V324.7Z" fill="url(#gFin)"/>
<path d="M710.7 323.5V265.2Q710.7 259.2 717.2 257.2L717.6 259.0Q713.8 261.2 713.8 267.2V323.9Z" fill="#93a4e0" opacity="0.8"/>
<g>
<ellipse cx="735.2" cy="292.2" rx="11.5" ry="5.2" fill="#3d4c86"/>
<ellipse cx="734.7" cy="289.2" rx="10.5" ry="4.6" fill="#c4cfe6"/>
<ellipse cx="734.7" cy="285.7" rx="10" ry="4.6" fill="#3d4960"/>
<ellipse cx="734.7" cy="282.7" rx="9.6" ry="4.4" fill="#9fb0cf"/>
<ellipse cx="734.7" cy="279.2" rx="8.6" ry="4.2" fill="#46536e"/>
<ellipse cx="734.7" cy="275.7" rx="7.4" ry="5.5" fill="#8d9cbb"/>
<ellipse cx="736.2" cy="273.7" rx="3.6" ry="2.8" fill="#eef3fc"/>
<ellipse cx="731.7" cy="276.2" rx="2.8" ry="4.4" fill="#3c4862" opacity="0.85"/>
</g>
<path d="M713.8 298.7L749.0 299.7V325.9L713.8 323.7Z" fill="#7888c8"/>
<path d="M713.8 298.7L749.0 299.7V302.6L713.8 301.6Z" fill="#a9b6e6"/>
<path d="M716.2 314.5L746.6 316.5V325.5L716.2 323.5Z" fill="#6878ba" opacity="0.6" filter="url(#fBlur05)"/>
<path d="M748.6 326.5V268.2Q748.6 261.6 755.6 259.6L775.6 256.4Q781.6 255.4 781.6 261.7V327.2Z" fill="url(#gFin)"/>
<path d="M749.1 326.0V268.2Q749.1 262.2 755.6 260.2L756.0 262.0Q752.2 264.2 752.2 270.2V326.4Z" fill="#93a4e0" opacity="0.8"/>
<path d="M753.8 288L781.6 284Q782.4 284 782.4 286L782 321Q782 325 779 326L756 328.6Q753.8 328.6 753.8 326Z" fill="#485a9f"/>
<ellipse cx="769" cy="301" rx="5.2" ry="6.4" fill="#33427f"/>
<ellipse cx="777.6" cy="301.6" rx="1.6" ry="2.4" fill="#2b3870"/>
<ellipse cx="759.2" cy="309" rx="1.7" ry="2.6" fill="#2b3870"/>
<ellipse cx="769.5" cy="314" rx="2.6" ry="3.4" fill="#3d4d8c"/>
<path d="M475.5 381.7L700.5 400.8Q704.8 401.4 704.9 406L705.6 802.6Q705.6 807.2 701.4 806.6L481.5 776Q477.6 775.4 477.5 771.5L471.6 385.6Q471.6 381.4 475.5 381.7Z" fill="#0d0e12"/>
<path d="M476.6 388.8L695.6 407L696.6 800.4L484 774.4Z" fill="url(#gPanel)"/>
<g transform="matrix(1.0 0.095 0 1.0 602 408.2)">
<path d="M0 0H33V9H26V25.6H30.2V32.6H3.8V25.6H8V9H0Z" fill="#27479a"/>
<text x="17" y="26" font-family="'Liberation Serif', 'Times New Roman', serif" font-weight="bold" font-size="26.5" fill="#eef0fc" stroke="#eef0fc" stroke-width="1.3" text-anchor="middle" textLength="21.5" lengthAdjust="spacingAndGlyphs">M</text>
</g>
<text transform="matrix(1 0.089 0 1 555.4 451.6)" font-family="'Liberation Serif', 'Times New Roman', serif" font-weight="bold" font-size="15.6" fill="#22306c" text-anchor="start" textLength="128" lengthAdjust="spacingAndGlyphs">Mivan Technologies</text>
<text transform="matrix(1 0.089 0 1 680.2 453.0)" font-family="'Liberation Serif', 'Times New Roman', serif" font-weight="bold" font-size="10" fill="#22306c" text-anchor="start">®</text>
<text transform="matrix(1 0.082 0 1 575.6 464.4)" font-family="'Liberation Serif', 'Times New Roman', serif" font-weight="bold" font-style="italic" font-size="6.6" fill="#2a3a78" text-anchor="start" textLength="107.6" lengthAdjust="spacingAndGlyphs">An Expertise In Advance Electronics</text>
<text transform="matrix(1 0.03 0 1 498.2 441.8)" font-family="'Liberation Sans', Arial, Helvetica, sans-serif" font-weight="bold" font-size="13" fill="#1f3a78" text-anchor="start" textLength="17" lengthAdjust="spacingAndGlyphs" stroke="#1f3a78" stroke-width="0.35">ON</text>
<circle cx="529.8" cy="439.4" r="6.6" fill="#2ae840" stroke="#176a2a" stroke-width="1.3"/>
<g transform="matrix(1 0.092 0 1 496.4 456.2)">
<path d="M0.5 5.5L50.5 5.5V63.2Q50.5 69.2 44.5 69.2H7Q0.5 69.2 0.5 63.2Z" fill="url(#pDots)"/>
<path d="M-2.6 -0.8Q0.5 0.2 0.5 4V63.2Q0.5 69.2 7 69.2H44.5Q50.5 69.2 50.5 63.2V3.6Q50.5 0.6 52 -0.8" fill="none" stroke="#27417f" stroke-width="1.1"/>
</g>
<g transform="matrix(1 0.092 0 1 497.4 529.6)">
<path d="M0.5 5.5L50.5 5.5V62.599999999999994Q50.5 68.6 44.5 68.6H7Q0.5 68.6 0.5 62.599999999999994Z" fill="url(#pDots)"/>
<path d="M-2.6 -0.8Q0.5 0.2 0.5 4V62.599999999999994Q0.5 68.6 7 68.6H44.5Q50.5 68.6 50.5 62.599999999999994V3.6Q50.5 0.6 52 -0.8" fill="none" stroke="#27417f" stroke-width="1.1"/>
</g>
<rect x="499.6" y="469.8" width="18" height="10.4" fill="#e6e8f9"/>
<rect x="502.2" y="507.4" width="16" height="10.4" fill="#e6e8f9"/>
<rect x="501.6" y="544.4" width="18.6" height="10.4" fill="#e6e8f9"/>
<rect x="506" y="582" width="16" height="10.4" fill="#e6e8f9"/>
<text transform="matrix(1 0.03 0 1 500.6 478.6)" font-family="'Liberation Sans', Arial, Helvetica, sans-serif" font-weight="bold" font-size="11.4" fill="#1f3a78" text-anchor="start" textLength="15.8" lengthAdjust="spacingAndGlyphs" stroke="#1f3a78" stroke-width="0.35">OH</text>
<text transform="matrix(1 0.03 0 1 503.2 516.2)" font-family="'Liberation Sans', Arial, Helvetica, sans-serif" font-weight="bold" font-size="11.4" fill="#1f3a78" text-anchor="start" textLength="13.8" lengthAdjust="spacingAndGlyphs" stroke="#1f3a78" stroke-width="0.35">OL</text>
<text transform="matrix(1 0.03 0 1 502.5 553.2)" font-family="'Liberation Sans', Arial, Helvetica, sans-serif" font-weight="bold" font-size="11.4" fill="#1f3a78" text-anchor="start" textLength="16.4" lengthAdjust="spacingAndGlyphs" stroke="#1f3a78" stroke-width="0.35">UH</text>
<text transform="matrix(1 0.03 0 1 507.2 590.6)" font-family="'Liberation Sans', Arial, Helvetica, sans-serif" font-weight="bold" font-size="11.4" fill="#1f3a78" text-anchor="start" textLength="13.8" lengthAdjust="spacingAndGlyphs" stroke="#1f3a78" stroke-width="0.35">UL</text>
<circle cx="530.2" cy="477" r="6.6" fill="#f71a14" stroke="#6e1c1c" stroke-width="1.3"/>
<circle cx="530.8" cy="514.2" r="6.6" fill="#f71a14" stroke="#6e1c1c" stroke-width="1.3"/>
<circle cx="531.5" cy="550.9" r="6.6" fill="#f71a14" stroke="#6e1c1c" stroke-width="1.3"/>
<circle cx="532.6" cy="588.3" r="6.6" fill="#f71a14" stroke="#6e1c1c" stroke-width="1.3"/>
<text transform="matrix(1 0.06 0 1 555.2 488.7)" font-family="'Liberation Sans', Arial, Helvetica, sans-serif" font-weight="bold" font-size="12.6" fill="#1f3a78" text-anchor="start" textLength="32" lengthAdjust="spacingAndGlyphs" stroke="#1f3a78" stroke-width="0.35">OVER</text>
<text transform="matrix(1 0.06 0 1 555.7 503.6)" font-family="'Liberation Sans', Arial, Helvetica, sans-serif" font-weight="bold" font-size="12.6" fill="#1f3a78" text-anchor="start" textLength="32.2" lengthAdjust="spacingAndGlyphs" stroke="#1f3a78" stroke-width="0.35">HEAD</text>
<text transform="matrix(1 0.06 0 1 556.0 518.3)" font-family="'Liberation Sans', Arial, Helvetica, sans-serif" font-weight="bold" font-size="12.6" fill="#1f3a78" text-anchor="start" textLength="31.4" lengthAdjust="spacingAndGlyphs" stroke="#1f3a78" stroke-width="0.35">TANK</text>
<text transform="matrix(1 0.06 0 1 556.6 565.3)" font-family="'Liberation Sans', Arial, Helvetica, sans-serif" font-weight="bold" font-size="12.6" fill="#1f3a78" text-anchor="start" textLength="41.8" lengthAdjust="spacingAndGlyphs" stroke="#1f3a78" stroke-width="0.35">UNDER</text>
<text transform="matrix(1 0.06 0 1 557.0 579.7)" font-family="'Liberation Sans', Arial, Helvetica, sans-serif" font-weight="bold" font-size="12.6" fill="#1f3a78" text-anchor="start" textLength="50.8" lengthAdjust="spacingAndGlyphs" stroke="#1f3a78" stroke-width="0.35">GROUND</text>
<text transform="matrix(1 0.06 0 1 557.4 593.6)" font-family="'Liberation Sans', Arial, Helvetica, sans-serif" font-weight="bold" font-size="12.6" fill="#1f3a78" text-anchor="start" textLength="31.4" lengthAdjust="spacingAndGlyphs" stroke="#1f3a78" stroke-width="0.35">TANK</text>
<text transform="matrix(1 0.095 0 1 620.2 552.2)" font-family="'Liberation Sans', Arial, Helvetica, sans-serif" font-weight="bold" font-size="12.8" fill="#1f3a78" text-anchor="start" textLength="33.2" lengthAdjust="spacingAndGlyphs" stroke="#1f3a78" stroke-width="0.35">AUTO</text>
<text transform="matrix(1 0.085 0 1 610.2 622.4)" font-family="'Liberation Sans', Arial, Helvetica, sans-serif" font-weight="bold" font-size="12.8" fill="#1f3a78" text-anchor="start" textLength="55" lengthAdjust="spacingAndGlyphs" stroke="#1f3a78" stroke-width="0.35">MANUAL</text>
<g transform="matrix(1 0.1 0 1 625.6 562.4)">
<rect x="0" y="0" width="22.4" height="42" rx="1.2" fill="#111114"/>
<rect x="0.6" y="4.5" width="12" height="20" rx="1" fill="#2a2a30"/>
<rect x="1.4" y="6.2" width="10" height="1.1" fill="#47474f"/>
<rect x="1.4" y="9.8" width="10" height="1.1" fill="#47474f"/>
<rect x="1.4" y="13.4" width="10" height="1.1" fill="#47474f"/>
<rect x="1.4" y="17.0" width="10" height="1.1" fill="#47474f"/>
<rect x="1.4" y="20.6" width="10" height="1.1" fill="#47474f"/>
<rect x="13" y="1" width="9" height="40" fill="#060608"/>
</g>
<g transform="matrix(1 0.106 0 1 522.4 672)">
<rect x="0.5" y="0.5" width="40.6" height="41.4" rx="3.4" fill="#ee302f" stroke="#5c1718" stroke-width="1.4"/>
<circle cx="20.8" cy="21" r="14" fill="none" stroke="#ffd9d0" stroke-width="2"/>
<path d="M10.8 11.4L30.6 31" stroke="#ffd9d0" stroke-width="2" fill="none"/>
</g>
<text transform="matrix(1 0.1 0 1 528.2 732)" font-family="'Liberation Sans', Arial, Helvetica, sans-serif" font-weight="bold" font-size="11.4" fill="#1f3a78" text-anchor="start" textLength="30.6" lengthAdjust="spacingAndGlyphs" stroke="#1f3a78" stroke-width="0.35">STOP</text>
<g transform="matrix(1 0.118 0 1 613.2 681.4)">
<rect x="0.5" y="0.5" width="42" height="42" rx="3.4" fill="#17a251" stroke="#0c4a2a" stroke-width="1.4"/>
<path d="M16.2 10.2A13.6 13.6 0 1 0 26.6 10.4" fill="none" stroke="#c8ffd4" stroke-width="2.1"/>
<path d="M21.3 3.4V13.8" stroke="#c8ffd4" stroke-width="2.4" fill="none"/>
</g>
<text transform="matrix(1 0.1 0 1 616.4 742.8)" font-family="'Liberation Sans', Arial, Helvetica, sans-serif" font-weight="bold" font-size="11.4" fill="#1f3a78" text-anchor="start" textLength="36.8" lengthAdjust="spacingAndGlyphs" stroke="#1f3a78" stroke-width="0.35">START</text>
<g transform="matrix(0.74 0.074 0 0.74 495.6 820.4)">
<path d="M0 0H33V9H26V25.6H30.2V32.6H3.8V25.6H8V9H0Z" fill="#f2f4fb"/>
<text x="17" y="26" font-family="'Liberation Serif', 'Times New Roman', serif" font-weight="bold" font-size="26.5" fill="#3f5292" stroke="#3f5292" stroke-width="2.0" text-anchor="middle" textLength="21.5" lengthAdjust="spacingAndGlyphs">M</text>
</g>
<text transform="matrix(1 0.113 0 1 523.0 846.8)" font-family="'Liberation Serif', 'Times New Roman', serif" font-weight="bold" font-size="25.6" fill="#f6f7fc" text-anchor="start" textLength="161.5" lengthAdjust="spacingAndGlyphs">Mivan Technologies</text>
<text transform="matrix(1 0.1 0 1 680.2 853.4)" font-family="'Liberation Serif', 'Times New Roman', serif" font-weight="bold" font-size="14.5" fill="#f6f7fc" text-anchor="start">®</text>
<g transform="matrix(1 0.1385 0 1 505.8 864)" fill="none" stroke="#f4f5fb" stroke-width="1.5">
<path d="M0 0H177.2V45.6H0ZM0 24.6H177.2M88.8 0V45.6M42 24.6V45.6M132.2 24.6V45.6"/>
</g>
<text transform="matrix(1 0.1385 0 1 530.4 887.4)" font-family="'Liberation Sans', Arial, Helvetica, sans-serif" font-size="13.6" fill="#f6f7fc" textLength="41.4" lengthAdjust="spacing" stroke="#f6f7fc" stroke-width="0.55">INPUT</text>
<text transform="matrix(1 0.1385 0 1 612.2 898.6)" font-family="'Liberation Sans', Arial, Helvetica, sans-serif" font-size="13.6" fill="#f6f7fc" textLength="58.4" lengthAdjust="spacing" stroke="#f6f7fc" stroke-width="0.55">OUTPUT</text>
<text transform="matrix(1 0.1385 0 1 522.8 906.8)" font-family="'Liberation Sans', Arial, Helvetica, sans-serif" font-weight="bold" font-size="15.4" fill="#f6f7fc" text-anchor="start" textLength="9.8" lengthAdjust="spacingAndGlyphs" stroke="#f6f7fc" stroke-width="0.3">P</text>
<text transform="matrix(1 0.1385 0 1 566.2 913.8)" font-family="'Liberation Sans', Arial, Helvetica, sans-serif" font-weight="bold" font-size="15.4" fill="#f6f7fc" text-anchor="start" textLength="10.4" lengthAdjust="spacingAndGlyphs" stroke="#f6f7fc" stroke-width="0.3">N</text>
<text transform="matrix(1 0.1385 0 1 612.4 919.6)" font-family="'Liberation Sans', Arial, Helvetica, sans-serif" font-weight="bold" font-size="15.4" fill="#f6f7fc" text-anchor="start" textLength="9.8" lengthAdjust="spacingAndGlyphs" stroke="#f6f7fc" stroke-width="0.3">P</text>
<text transform="matrix(1 0.1385 0 1 656.2 926.2)" font-family="'Liberation Sans', Arial, Helvetica, sans-serif" font-weight="bold" font-size="15.4" fill="#f6f7fc" text-anchor="start" textLength="10.4" lengthAdjust="spacingAndGlyphs" stroke="#f6f7fc" stroke-width="0.3">N</text>
<ellipse cx="523.6" cy="933.8" rx="15" ry="15.4" fill="#0a0a0d"/>
<path d="M528.6 923.8Q534.6 927.8 535.6 934.8" fill="none" stroke="#3c3c44" stroke-width="1.8" opacity="0.8" filter="url(#fBlur05)"/>
<ellipse cx="525.1" cy="935.8" rx="9" ry="9.6" fill="#000"/>
<ellipse cx="569.4" cy="940.8" rx="15" ry="15.4" fill="#0a0a0d"/>
<path d="M574.4 930.8Q580.4 934.8 581.4 941.8" fill="none" stroke="#3c3c44" stroke-width="1.8" opacity="0.8" filter="url(#fBlur05)"/>
<ellipse cx="570.9" cy="942.8" rx="9" ry="9.6" fill="#000"/>
<ellipse cx="615.0" cy="947.0" rx="15" ry="15.4" fill="#0a0a0d"/>
<path d="M620.0 937.0Q626.0 941.0 627.0 948.0" fill="none" stroke="#3c3c44" stroke-width="1.8" opacity="0.8" filter="url(#fBlur05)"/>
<ellipse cx="616.5" cy="949.0" rx="9" ry="9.6" fill="#000"/>
<ellipse cx="661.3" cy="953.6" rx="15" ry="15.4" fill="#0a0a0d"/>
<path d="M666.3 943.6Q672.3 947.6 673.3 954.6" fill="none" stroke="#3c3c44" stroke-width="1.8" opacity="0.8" filter="url(#fBlur05)"/>
<ellipse cx="662.8" cy="955.6" rx="9" ry="9.6" fill="#000"/>
<path d="M151.6 604V122.6H634.6V257" fill="none" stroke="#373435" stroke-width="5.1" stroke-linejoin="round"/>
<path d="M188.9 530V153H596.8V255" fill="none" stroke="#ee0f12" stroke-width="5.1" stroke-linejoin="round"/>
<path d="M231.1 470V185.2H560.2V248" fill="none" stroke="#00a859" stroke-width="5.1" stroke-linejoin="round"/>
<path d="M672.6 255V122.6H1160.9V604" fill="none" stroke="#373435" stroke-width="5.1" stroke-linejoin="round"/>
<path d="M711 263V154.5H1127.5V530" fill="none" stroke="#ee0f12" stroke-width="5.1" stroke-linejoin="round"/>
<path d="M747.8 270V185.6H1084.6V470" fill="none" stroke="#00a859" stroke-width="5.1" stroke-linejoin="round"/>
<rect x="220.9" y="467" width="21.4" height="50.200000000000045" rx="3" ry="3" fill="#373435"/>
<rect x="176.5" y="528.2" width="21.4" height="49.19999999999993" rx="3" ry="3" fill="#373435"/>
<rect x="140.8" y="601" width="21.4" height="48" rx="3" ry="3" fill="#373435"/>
<rect x="1073.6" y="467" width="21.4" height="49.5" rx="3" ry="3" fill="#373435"/>
<rect x="1117.9" y="528.2" width="21.4" height="48.39999999999998" rx="3" ry="3" fill="#373435"/>
<rect x="1153.3" y="601" width="21.4" height="48" rx="3" ry="3" fill="#373435"/>
<text x="256.5" y="500.5" font-family="'Liberation Sans', Arial, Helvetica, sans-serif" font-weight="bold" font-size="23.4" fill="#373435" text-anchor="start" textLength="35.5" lengthAdjust="spacingAndGlyphs">OH</text>
<text x="217.8" y="561" font-family="'Liberation Sans', Arial, Helvetica, sans-serif" font-weight="bold" font-size="23.4" fill="#373435" text-anchor="start" textLength="33" lengthAdjust="spacingAndGlyphs">OL</text>
<text x="190" y="633" font-family="'Liberation Sans', Arial, Helvetica, sans-serif" font-weight="bold" font-size="23.4" fill="#373435" text-anchor="start">C</text>
<text x="1034.2" y="499.5" font-family="'Liberation Sans', Arial, Helvetica, sans-serif" font-weight="bold" font-size="23.4" fill="#373435" text-anchor="start" textLength="33.5" lengthAdjust="spacingAndGlyphs">UH</text>
<text x="1071" y="560.5" font-family="'Liberation Sans', Arial, Helvetica, sans-serif" font-weight="bold" font-size="23.4" fill="#373435" text-anchor="start" textLength="31.5" lengthAdjust="spacingAndGlyphs">UL</text>
<text x="1110.5" y="632" font-family="'Liberation Sans', Arial, Helvetica, sans-serif" font-weight="bold" font-size="23.4" fill="#373435" text-anchor="start">C</text>
<text x="70" y="739" font-family="'Liberation Sans', Arial, Helvetica, sans-serif" font-weight="bold" font-size="33.8" fill="#373435" text-anchor="start" textLength="251.5" lengthAdjust="spacingAndGlyphs">Over head Tank</text>
<text x="980.5" y="739" font-family="'Liberation Sans', Arial, Helvetica, sans-serif" font-weight="bold" font-size="33.8" fill="#373435" text-anchor="start" textLength="314" lengthAdjust="spacingAndGlyphs">Under Ground Tank</text>
<text x="192.5" y="975.2" font-family="'Liberation Sans', Arial, Helvetica, sans-serif" font-weight="bold" font-size="22.9" fill="#373435" text-anchor="start" textLength="181.8" lengthAdjust="spacingAndGlyphs">Supply 230 V AC</text>
<rect x="158.6" y="1034.6" width="257.4" height="151.4" rx="16" ry="16" fill="#fff" stroke="#373435" stroke-width="3"/>
<path d="M524 948V1014.8H126.6V1206.2H202.6V1166" fill="none" stroke="#ee0f12" stroke-width="4.2" stroke-linejoin="miter"/>
<path d="M568.5 958V1207.4H275.4V1166" fill="none" stroke="#373435" stroke-width="3.5" stroke-linejoin="miter"/>
<path d="M621.5 939V1119.6H880" fill="none" stroke="#373435" stroke-width="3.1" stroke-linejoin="miter"/>
<path d="M661 948V1104H880" fill="none" stroke="#373435" stroke-width="3.1" stroke-linejoin="miter"/>
<circle cx="239" cy="1092" r="14.4" fill="#fff" stroke="#373435" stroke-width="3"/>
<circle cx="202.6" cy="1157" r="9.8" fill="#fff" stroke="#373435" stroke-width="3"/>
<circle cx="275.4" cy="1157" r="9.8" fill="#fff" stroke="#373435" stroke-width="3"/>
<text x="238.6" y="1066.4" font-family="'Liberation Sans', Arial, Helvetica, sans-serif" font-weight="bold" font-size="23.4" fill="#373435" text-anchor="middle">E</text>
<text x="201.8" y="1138.5" font-family="'Liberation Sans', Arial, Helvetica, sans-serif" font-weight="bold" font-size="23.4" fill="#373435" text-anchor="middle">P</text>
<text x="275.6" y="1138.5" font-family="'Liberation Sans', Arial, Helvetica, sans-serif" font-weight="bold" font-size="23.4" fill="#373435" text-anchor="middle">N</text>
<path d="M346 1079.6H381V1152H334L346 1108.6ZM346 1108.6H381M381 1108.6L370 1152" fill="none" stroke="#373435" stroke-width="3" stroke-linejoin="miter"/>
<filter id="fMotor" x="-5%" y="-5%" width="110%" height="110%"><feGaussianBlur stdDeviation="0.4"/></filter>
<g fill="none" stroke="#111" stroke-width="2.7" stroke-linecap="round" stroke-linejoin="round" filter="url(#fMotor)">
<path d="M858.9 1070.2L979.9 1068.8L991.1 1083.7L1027.6 1082.3Q1045.1 1089.9 1045.1 1116.9Q1044.0 1146.2 1027.6 1151.1L991.1 1152.9L982.6 1161.0L863.4 1161.0Q846.1 1139.4 846.1 1112.4Q847.2 1083.2 858.9 1070.2Z" fill="#fff"/>
<path d="M883.7 1071.5Q871.5 1094.4 872.4 1116.9Q873.8 1143.9 883.7 1161.0"/>
<path d="M879.8 1083.7L955.2 1083.2"/>
<path d="M875.3 1098.0L948.4 1097.6"/>
<path d="M874.2 1128.6L947.3 1128.2"/>
<path d="M877.6 1143.0L950.7 1142.6"/>
<path d="M881.4 1155.2L957.4 1154.7"/>
<path d="M881.4 1097.1L923.2 1096.2L923.2 1125.0L881.4 1125.0Z" fill="#fff"/>
<path d="M885.9 1101.6L919.2 1101.2L919.2 1120.5L885.9 1120.5Z" stroke-width="2"/>
<path d="M923.2 1103.9L937.2 1103.9"/><path d="M923.2 1117.8L937.2 1117.8"/>
<path d="M955.6 1070.2Q946.2 1094.4 947.3 1116.9Q949.5 1143.9 962.4 1160.6"/>
<path d="M969.1 1070.2Q961.5 1094.4 962.4 1116.9Q964.2 1143.9 975.8 1160.6"/>
<path d="M979.9 1068.8Q970.9 1089.9 971.4 1116.9Q973.2 1143.9 982.6 1161.0"/>
<path d="M965.3 1092.6L990.7 1092.2" stroke-width="2.2"/>
<path d="M965.3 1112.4L990.7 1112.0" stroke-width="2.2"/>
<path d="M965.3 1132.7L990.7 1132.2" stroke-width="2.2"/>
<path d="M965.3 1148.4L990.7 1148.0" stroke-width="2.2"/>
<path d="M991.1 1083.7L991.1 1152.9"/>
<ellipse cx="1028.9" cy="1116.9" rx="16.2" ry="34.6" fill="#fff"/>
<path d="M1027.1 1082.8Q1012.5 1094.4 1013.2 1116.9Q1014.8 1141.7 1027.1 1151.1"/>
<path d="M894.9 1162.4L881.4 1175.8L957.9 1175.8L946.6 1162.4" fill="#fff"/>
<path d="M888.8 1171.4L952.9 1171.4" stroke-width="2"/>
<path d="M858.9 1070.2L979.9 1068.8L991.1 1083.7L1027.6 1082.3M1027.6 1151.1L991.1 1152.9L982.6 1161.0L863.4 1161.0Q846.1 1139.4 846.1 1112.4Q847.2 1083.2 858.9 1070.2"/>
</g>
<path d="M800.0 1104.3L877.6 1103.9M800.0 1118.5L877.6 1117.8" stroke="#111" stroke-width="2.2" fill="none"/>
<path d="M1046.9 1019.1H1063.3V1122.6H1031.6V1105.7H1046.9Z" fill="#0a0a0a"/>
</svg>
</body>
</html>
